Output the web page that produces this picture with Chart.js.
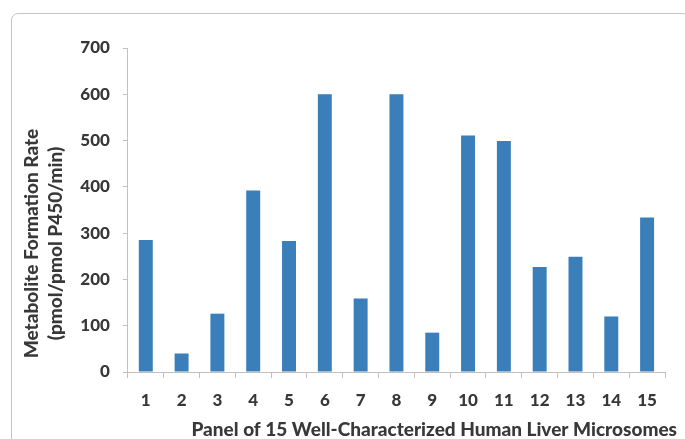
<!DOCTYPE html>
<html>
<head>
<meta charset="utf-8">
<script src="https://cdn.jsdelivr.net/npm/chart.js@4"></script>
<style>
  html, body { margin: 0; padding: 0; background: #fff; }
  body { width: 685px; height: 439px; overflow: hidden; position: relative; }
  #frame { position: absolute; left: 11px; top: 13px; width: 678px; height: 500px;
           border: 1px solid #c4c4c4; border-radius: 7px; box-sizing: border-box; }
  #wrap { position: absolute; left: 0; top: 0; width: 685px; height: 439px; }
</style>
</head>
<body>
<div id="frame"></div>
<div id="wrap"><canvas id="c" width="685" height="439"></canvas></div>
<script>
const categories = ["1","2","3","4","5","6","7","8","9","10","11","12","13","14","15"];
const formationRate = [285, 40, 126, 392, 283, 600, 159, 600, 85, 511, 499, 227, 249, 120, 334];
const yTitleLines = ["Metabolite Formation Rate", "(pmol/pmol P450/min)"];
const xTitle = "Panel of 15 Well-Characterized Human Liver Microsomes";

const textColor = '#383838';
const axisColor = '#c0c0c0';
const fontFamily = 'Lato, "Open Sans", sans-serif';

new Chart(document.getElementById('c'), {
  type: 'bar',
  data: {
    labels: categories,
    datasets: [{
      data: formationRate,
      backgroundColor: '#3a7fba',
      borderWidth: 0,
      barPercentage: 0.39,
      categoryPercentage: 1.0
    }]
  },
  options: {
    responsive: false,
    animation: false,
    layout: { padding: { left: 20, right: 8, top: 48, bottom: 0 } },
    plugins: {
      legend: { display: false },
      tooltip: { enabled: false },
      title: {
        display: true,
        position: 'left',
        text: yTitleLines,
        color: textColor,
        font: { family: fontFamily, size: 19, weight: 900, lineHeight: 1.26 },
        padding: { top: 0, bottom: 0 }
      },
      subtitle: {
        display: true,
        position: 'bottom',
        align: 'end',
        text: xTitle,
        color: textColor,
        font: { family: fontFamily, size: 19, weight: 900, lineHeight: 1.0 },
        padding: { top: 0, bottom: 0 }
      }
    },
    scales: {
      x: {
        grid: { display: true, drawOnChartArea: false, drawTicks: true, tickLength: 6, color: axisColor, offset: true },
        border: { display: true, color: axisColor, width: 1 },
        ticks: { color: textColor, font: { family: fontFamily, size: 17, weight: 900 }, padding: 12, maxRotation: 0 },
        afterFit: (s) => { s.height = 48; }
      },
      y: {
        min: 0, max: 700,
        ticks: { stepSize: 100, color: textColor, font: { family: fontFamily, size: 17, weight: 900 }, padding: 13 },
        grid: { display: true, drawOnChartArea: false, drawTicks: true, tickLength: 5, color: axisColor },
        border: { display: true, color: axisColor, width: 1 },
        afterFit: (s) => { s.width = 60; }
      },
      y2: {
        position: 'right',
        display: true,
        min: 0, max: 700,
        ticks: { display: false },
        grid: { display: false, drawTicks: false },
        border: { display: false },
        afterFit: (s) => { s.width = 12; }
      }
    }
  }
});
</script>
</body>
</html>
